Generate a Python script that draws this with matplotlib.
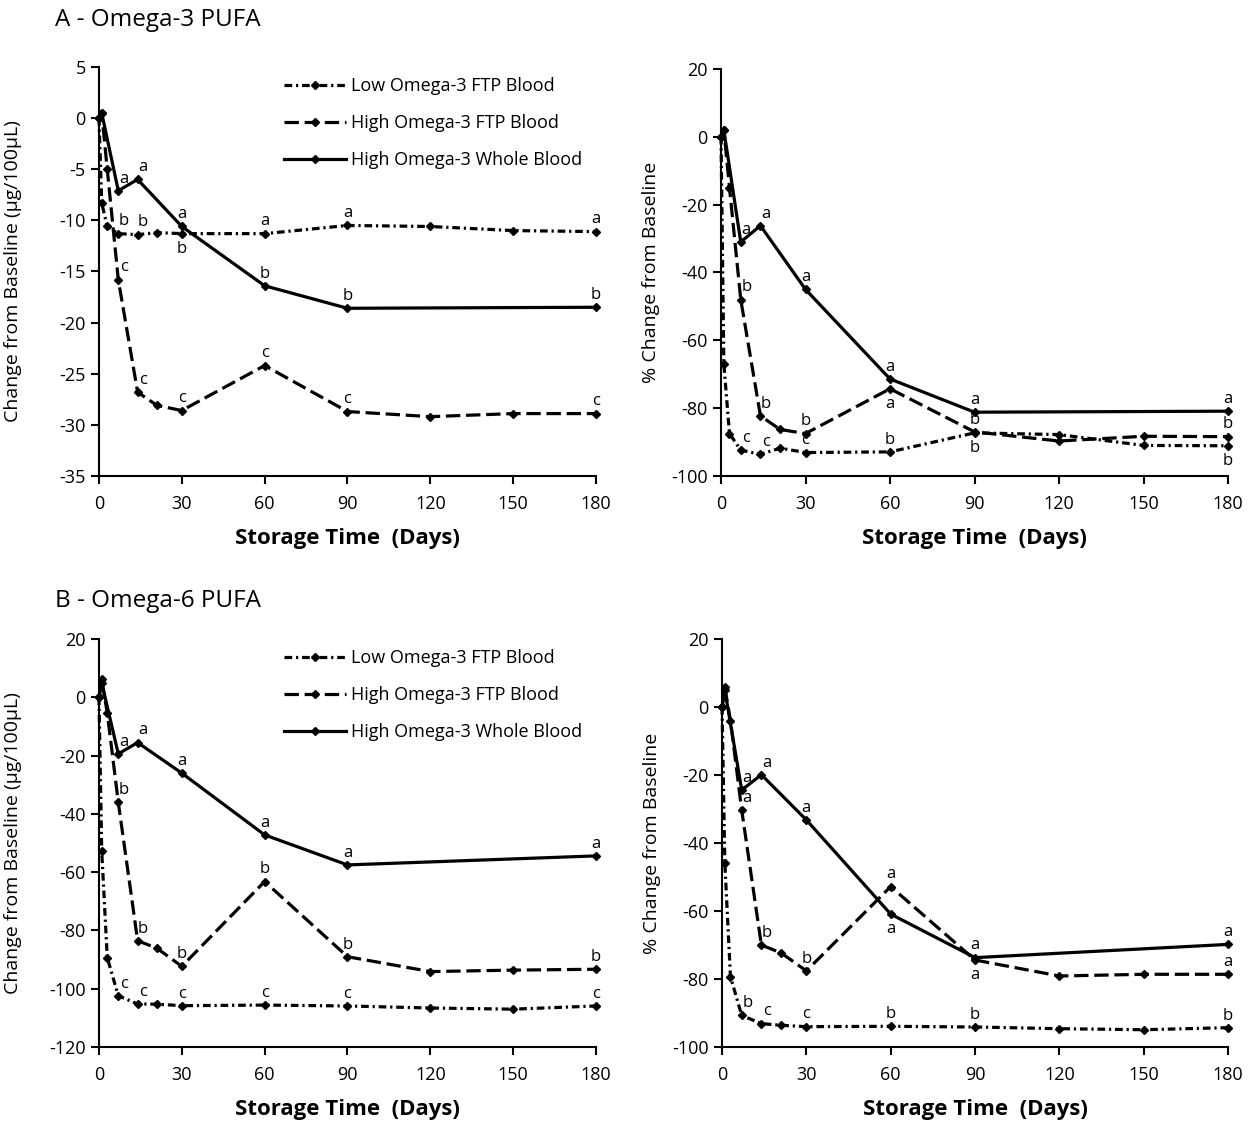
import numpy as np
import matplotlib.pyplot as plt

plt.rcParams['font.family'] = ['Open Sans', 'DejaVu Sans']
plt.rcParams['axes.unicode_minus'] = False

# storage days sampled
days_ftp = [0, 1, 3, 7, 14, 21, 30, 60, 90, 120, 150, 180]
days_wb = [0, 1, 7, 14, 30, 60, 90, 180]

# A - omega-3 PUFA, change from baseline (ug/100uL)
a_abs_low = [0, -8.3, -10.6, -11.3, -11.4, -11.2, -11.3, -11.3, -10.5, -10.6, -11.0, -11.1]
a_abs_high = [0, 0.5, -5.0, -15.8, -26.8, -28.1, -28.6, -24.2, -28.7, -29.2, -28.9, -28.9]
a_abs_whole = [0, 0.5, -7.1, -6.0, -10.6, -16.4, -18.6, -18.5]

# A - omega-3 PUFA, % change from baseline
a_pct_low = [0, -67.0, -87.5, -92.4, -93.6, -91.8, -93.1, -92.9, -87.3, -87.8, -91.0, -91.1]
a_pct_high = [0, 2.0, -15.0, -48.0, -82.3, -86.3, -87.5, -74.3, -87.0, -89.7, -88.3, -88.4]
a_pct_whole = [0, 2.0, -31.0, -26.2, -45.0, -71.4, -81.2, -80.9]

# B - omega-6 PUFA, change from baseline (ug/100uL)
b_abs_low = [0, -52.7, -89.3, -102.4, -105.2, -105.3, -105.8, -105.6, -105.9, -106.6, -107.0, -105.9]
b_abs_high = [0, 6.2, -5.3, -36.0, -83.5, -86.1, -92.3, -63.2, -89.0, -94.1, -93.6, -93.3]
b_abs_whole = [0, 5.0, -19.4, -15.5, -26.0, -47.2, -57.5, -54.4]

# B - omega-6 PUFA, % change from baseline
b_pct_low = [0, -46.0, -79.3, -90.7, -93.1, -93.6, -94.0, -93.9, -94.1, -94.6, -94.9, -94.3]
b_pct_high = [0, 5.8, -4.0, -30.3, -70.0, -72.3, -77.6, -52.8, -74.4, -79.1, -78.6, -78.6]
b_pct_whole = [0, 5.0, -24.4, -19.9, -33.2, -60.9, -73.7, -69.8]

# significance letters (aligned with the day lists, '' = none)
a_abs_low_let = ['', '', '', 'b', 'b', '', 'b', 'a', 'a', '', '', 'a']
a_abs_high_let = ['', '', '', 'c', 'c', '', 'c', 'c', 'c', '', '', 'c']
a_abs_whole_let = ['', '', 'a', 'a', 'a', 'b', 'b', 'b']
a_pct_low_let = ['', '', '', 'c', 'c', '', 'c', 'b', 'b', '', '', 'b']
a_pct_high_let = ['', '', '', 'b', 'b', '', 'b', 'a', 'b', '', '', 'b']
a_pct_whole_let = ['', '', 'a', 'a', 'a', 'a', 'a', 'a']
b_abs_low_let = ['', '', '', 'c', 'c', '', 'c', 'c', 'c', '', '', 'c']
b_abs_high_let = ['', '', '', 'b', 'b', '', 'b', 'b', 'b', '', '', 'b']
b_abs_whole_let = ['', '', 'a', 'a', 'a', 'a', 'a', 'a']
b_pct_low_let = ['', '', '', 'b', 'c', '', 'c', 'b', 'b', '', '', 'b']
b_pct_high_let = ['', '', '', 'a', 'b', '', 'b', 'a', 'a', '', '', 'a']
b_pct_whole_let = ['', '', 'a', 'a', 'a', 'a', 'a', 'a']

series_names = ['Low Omega-3 FTP Blood', 'High Omega-3 FTP Blood', 'High Omega-3 Whole Blood']

# letters drawn below the point instead of above (panel, series, day)
below = {
    ('a_abs', 0, 30),
    ('a_pct', 0, 90), ('a_pct', 0, 180), ('a_pct', 1, 60),
    ('b_pct', 2, 60), ('b_pct', 1, 90),
}

styles = [
    dict(dashes=(2.4, 1.2, 0.7, 1.2)),
    dict(dashes=(4.5, 1.8)),
    dict(linestyle='-'),
]


def draw_panel(ax, key, ys, lets, ylim, ystep, ylabel, legend):
    for i, (y, let) in enumerate(zip(ys, lets)):
        d = days_wb if i == 2 else days_ftp
        ax.plot(d, y, color='black', lw=2.3, marker='D', ms=4.5,
                label=series_names[i], clip_on=False, **styles[i])
        for x, v, t in zip(d, y, let):
            if not t:
                continue
            dx = 4 if x <= 14 else 0
            if (key, i, x) in below:
                ax.annotate(t, (x, v), xytext=(dx, -5), textcoords='offset points',
                            ha='center', va='top', fontsize=12)
            else:
                ax.annotate(t, (x, v), xytext=(dx, 3), textcoords='offset points',
                            ha='center', va='bottom', fontsize=12)
    ax.set_xlim(0, 180)
    ax.set_ylim(*ylim)
    ax.set_xticks(np.arange(0, 181, 30))
    ax.set_yticks(np.arange(ylim[0], ylim[1] + 1, ystep))
    for s in ['top', 'right']:
        ax.spines[s].set_visible(False)
    for s in ['left', 'bottom']:
        ax.spines[s].set_linewidth(1.5)
    ax.tick_params(direction='out', length=6, width=1.5, labelsize=13)
    ax.tick_params(axis='x', pad=8)
    ax.set_xlabel('Storage Time  (Days)', fontsize=16, fontweight='bold')
    ax.set_ylabel(ylabel, fontsize=14)
    if legend:
        ax.legend(loc='upper left', bbox_to_anchor=(0.34, 1.015), frameon=False,
                  fontsize=13, handlelength=3.4, labelspacing=1.05, handletextpad=0.3)


fig = plt.figure(figsize=(12.59, 11.22), dpi=100)
ax1 = fig.add_axes([0.0786, 0.5758, 0.3948, 0.3645])
ax2 = fig.add_axes([0.5727, 0.5758, 0.4027, 0.3627])
ax3 = fig.add_axes([0.0786, 0.0668, 0.3948, 0.3636])
ax4 = fig.add_axes([0.5735, 0.0668, 0.4019, 0.3636])

draw_panel(ax1, 'a_abs', [a_abs_low, a_abs_high, a_abs_whole],
           [a_abs_low_let, a_abs_high_let, a_abs_whole_let],
           (-35, 5), 5, 'Change from Baseline (\u03bcg/100\u03bcL)', True)
draw_panel(ax2, 'a_pct', [a_pct_low, a_pct_high, a_pct_whole],
           [a_pct_low_let, a_pct_high_let, a_pct_whole_let],
           (-100, 20), 20, '% Change from Baseline', False)
draw_panel(ax3, 'b_abs', [b_abs_low, b_abs_high, b_abs_whole],
           [b_abs_low_let, b_abs_high_let, b_abs_whole_let],
           (-120, 20), 20, 'Change from Baseline (\u03bcg/100\u03bcL)', True)
draw_panel(ax4, 'b_pct', [b_pct_low, b_pct_high, b_pct_whole],
           [b_pct_low_let, b_pct_high_let, b_pct_whole_let],
           (-100, 20), 20, '% Change from Baseline', False)

for ax in [ax1, ax3]:
    ax.yaxis.set_label_coords(-0.155, 0.5)
for ax in [ax2, ax4]:
    ax.yaxis.set_label_coords(-0.12, 0.5)
for ax in [ax1, ax2, ax3, ax4]:
    ax.xaxis.set_label_coords(0.5, -0.127)

fig.text(55 / 1259, 1 - 20 / 1122, 'A - Omega-3 PUFA', fontsize=17.5, va='center')
fig.text(55 / 1259, 1 - 601 / 1122, 'B - Omega-6 PUFA', fontsize=17.5, va='center')

fig.savefig('out.png', dpi=100)
